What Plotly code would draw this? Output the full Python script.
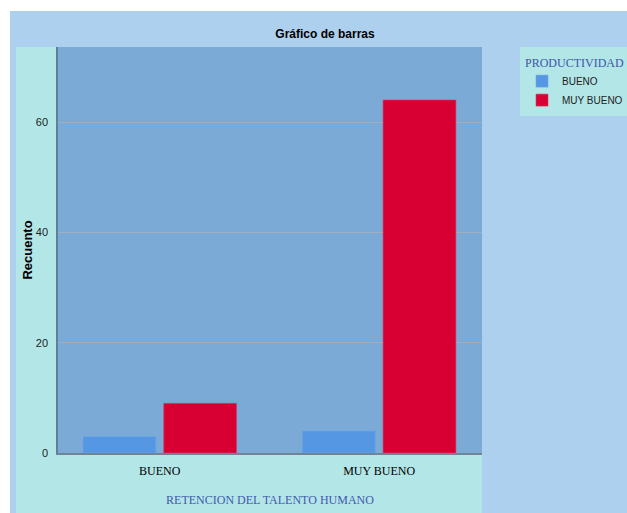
import plotly.graph_objects as go

# ---- data ----
categories = ["BUENO", "MUY BUENO"]
series_names = ["BUENO", "MUY BUENO"]
bueno_counts = [3, 4]
muy_bueno_counts = [9, 64]
y_ticks = [0, 20, 40, 60]

# ---- geometry / styles ----
W, H = 627, 513
L, R, T, B = 58, 145, 47, 60
PW, PH = W - L - R, H - T - B


def px(x):
    return (x - L) / PW


def py(y):
    return (H - B - y) / PH


OUTER = "#ADD0EE"
CYAN = "#B3E6E7"
PLOTBG = "#7BAAD6"
BLUE = "#5697E4"
RED = "#D80032"
SERIF = "Liberation Serif, Times New Roman, serif"
NARROW = "Liberation Sans Narrow, Arial Narrow, Liberation Sans, Arial, sans-serif"
SANS = "Liberation Sans, Arial, sans-serif"

fig = go.Figure()
fig.add_trace(go.Bar(
    x=categories, y=bueno_counts, name=series_names[0],
    marker=dict(color=BLUE, line=dict(color="#6FA6E8", width=0.6)),
    width=0.332, offset=-0.35,
))
fig.add_trace(go.Bar(
    x=categories, y=muy_bueno_counts, name=series_names[1],
    marker=dict(color=RED, line=dict(color="#D4406A", width=0.6)),
    width=0.332, offset=0.018,
))

shapes = [
    dict(type="rect", xref="paper", yref="paper", layer="below",
         x0=px(10), x1=px(W + 5), y0=py(H + 5), y1=py(11),
         fillcolor=OUTER, line=dict(width=0)),
    dict(type="rect", xref="paper", yref="paper", layer="below",
         x0=px(16), x1=1, y0=py(H + 5), y1=1,
         fillcolor=CYAN, line=dict(width=0)),
    dict(type="rect", xref="paper", yref="paper", layer="below",
         x0=0, x1=1, y0=0, y1=1,
         fillcolor=PLOTBG, line=dict(width=0)),
    dict(type="rect", xref="paper", yref="paper", layer="below",
         x0=px(520), x1=px(W + 5), y0=py(116), y1=1,
         fillcolor=CYAN, line=dict(width=0)),
]

fig.update_layout(
    width=W, height=H,
    margin=dict(l=L, r=R, t=T, b=B, autoexpand=False),
    paper_bgcolor="white",
    plot_bgcolor="rgba(0,0,0,0)",
    barmode="group",
    shapes=shapes,
    title=dict(text="<b>Gráfico de barras</b>", x=325 / W, xanchor="center",
               y=1 - 34 / H, yanchor="middle",
               font=dict(family=SANS, size=12, color="black")),
    showlegend=True,
    legend=dict(
        x=px(523), xanchor="left", y=py(51), yanchor="top",
        bgcolor="rgba(0,0,0,0)", borderwidth=0,
        title=dict(text="PRODUCTIVIDAD",
                   font=dict(family=SERIF, size=12, color="#3F55A8")),
        font=dict(family=NARROW, size=10, color="#222222"),
        indentation=-1,
        itemwidth=30,
    ),
    xaxis=dict(
        range=[-0.464, 1.469],
        showgrid=False, zeroline=False,
        showline=True, linecolor="#6F8595", linewidth=1.5,
        ticks="", ticklabelstandoff=6,
        tickfont=dict(family=SERIF, size=12, color="black"),
        title=dict(text="RETENCION DEL TALENTO HUMANO", standoff=18,
                   font=dict(family=SERIF, size=12, color="#4259AE")),
    ),
    yaxis=dict(
        range=[0, 73.6],
        tickvals=y_ticks, ticktext=[str(v) for v in y_ticks],
        showgrid=True, gridcolor="#A0AEBE", gridwidth=1,
        zeroline=False,
        showline=True, linecolor="#5F8099", linewidth=1.5,
        ticks="", ticklabelstandoff=6,
        tickfont=dict(family=NARROW, size=11, color="#222222"),
        title=dict(text="<b>Recuento</b>", standoff=0,
                   font=dict(family=SANS, size=13, color="black")),
    ),
)

fig.write_html("out.html")
